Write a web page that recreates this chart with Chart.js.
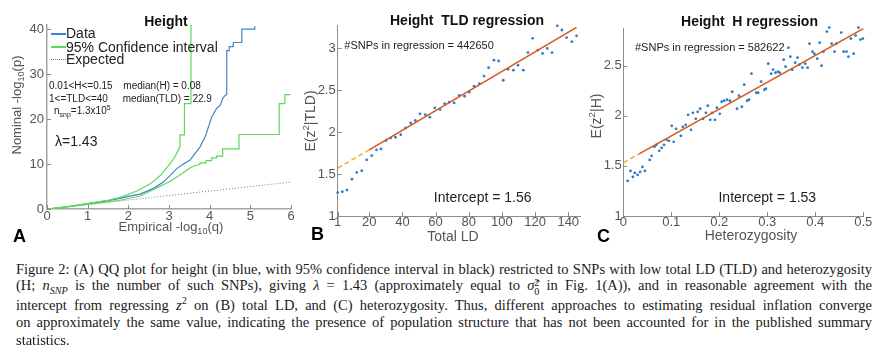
<!DOCTYPE html>
<html>
<head>
<meta charset="utf-8">
<script src="https://cdn.jsdelivr.net/npm/chart.js@4.4.1/dist/chart.umd.min.js"></script>
<style>
  html, body { margin: 0; padding: 0; background: #fff; }
  #fig { position: relative; width: 887px; height: 350px; overflow: hidden; font-family: 'Liberation Sans', Arial, sans-serif; }
  #fig canvas { position: absolute; left: 0; top: 0; }
  .t { position: absolute; white-space: pre; line-height: 1; }
  .ttl { font-weight: bold; font-size: 14px; color: #111; }
  .axt { font-size: 14px; color: #555; }
  .axt13 { font-size: 13px; color: #555; }
  .note { font-size: 11px; color: #222; }
  .note10 { font-size: 10px; color: #222; }
  .big { font-size: 14px; color: #222; }
  .letter { font-weight: bold; font-size: 18px; color: #000; }
  .t sub, .t sup { font-size: 70%; line-height: 0; }
  .leg { position: absolute; width: 15px; height: 0; }
  .cap { position: absolute; left: 16px; white-space: nowrap; font-family: 'Liberation Serif', serif; font-size: 14.5px; color: #1a1a1a; line-height: 1; transform: translateY(-50%); }
  .cap sub, .cap sup { font-size: 70%; line-height: 0; }
  .ss { display: inline-flex; flex-direction: column; vertical-align: middle; font-size: 70%; line-height: 0.9; }
</style>
</head>
<body>
<div id="fig">
  <canvas id="qq" width="887" height="250"></canvas>
  <canvas id="tld" width="887" height="250"></canvas>
  <canvas id="het" width="887" height="250"></canvas>
</div>
<script>
// --- A: QQ plot (Height) ---
const A_xTicks = [0, 1, 2, 3, 4, 5, 6];
const A_yTicks = [0, 10, 20, 30, 40];
const A_dataX = [0, 0.5, 1, 1.5, 1.8, 2.0, 2.29, 2.62, 2.86, 3.03, 3.19, 3.35, 3.52, 3.64, 3.76, 3.89, 3.97, 4.05, 4.17, 4.26, 4.32, 4.38, 4.42, 4.42, 4.48, 4.48, 4.58, 4.58, 4.79, 4.79, 5.11, 5.11];
const A_dataY = [0, 0.5, 1.15, 1.85, 2.35, 2.8, 3.33, 4.6, 6.0, 7.5, 9.0, 10.0, 10.9, 12.4, 13.8, 16.1, 18.3, 20.5, 22.4, 23.1, 24.6, 25.3, 25.5, 35.3, 35.3, 36.2, 36.2, 37.1, 37.1, 40.1, 40.1, 40.7];
const A_ciHiX = [0, 0.5, 1, 1.5, 1.8, 2.21, 2.54, 2.78, 2.95, 3.11, 3.19, 3.27, 3.27, 3.38, 3.38, 3.54, 3.54];
const A_ciHiY = [0, 0.55, 1.25, 1.95, 2.6, 4.0, 5.6, 7.4, 9.2, 11.1, 12.4, 13.9, 16.5, 16.5, 23.5, 23.5, 41];
const A_ciLoX = [0, 0.5, 1, 1.5, 1.8, 2.29, 2.70, 3.03, 3.27, 3.52, 3.64, 3.76, 3.76, 3.91, 3.91, 4.05, 4.05, 4.17, 4.17, 4.32, 4.32, 4.72, 4.72, 5.71, 5.71, 5.85, 5.85, 5.99];
const A_ciLoY = [0, 0.45, 1.05, 1.6, 1.95, 2.9, 4.7, 6.2, 7.6, 9.2, 9.7, 9.9, 10.3, 10.3, 10.8, 10.8, 11.4, 11.4, 11.8, 11.8, 13.4, 13.4, 16.6, 16.6, 23.5, 23.5, 25.5, 25.5];
const A_expX = [0, 6];
const A_expY = [0, 6];

// --- B: E(z^2 | TLD) against total LD ---
const B_xTicks = [1, 20, 40, 60, 80, 100, 120, 140];
const B_xLabels = ['1', '20', '40', '60', '80', '100', '120', '140'];
const B_yTicks = [1, 1.5, 2, 2.5, 3];
const B_yLabels = ['1', '1.5', '2', '2.5', '3'];
const B_x = [1, 3.8, 6.6, 9.6, 12.5, 15.5, 18.5, 21.5, 24.4, 27.1, 30.1, 32.9, 35.8, 39, 42, 45, 47.8, 50.6, 53.8, 56.6, 59.5, 62.7, 65.5, 68.3, 71.2, 74.3, 77.5, 80.3, 83.2, 86.4, 89.2, 92, 95.2, 98, 100.8, 103.7, 106.9, 109.7, 112.9, 115.7, 118.5, 121.7, 124.5, 127.3, 130.2, 133.4, 136.2, 139, 142.2, 145];
const B_y = [1.28, 1.29, 1.31, 1.44, 1.52, 1.54, 1.67, 1.72, 1.79, 1.80, 1.90, 1.93, 1.94, 1.97, 2.05, 2.11, 2.14, 2.22, 2.21, 2.18, 2.29, 2.27, 2.34, 2.36, 2.35, 2.44, 2.43, 2.48, 2.55, 2.58, 2.67, 2.77, 2.86, 2.85, 2.62, 2.75, 2.74, 2.80, 2.74, 2.95, 3.12, 2.98, 2.94, 3.00, 2.95, 3.27, 3.22, 3.13, 3.08, 3.15];
const B_extX = [1, 20];
const B_extY = [1.57, 1.79];
const B_fitX = [20, 145];
const B_fitY = [1.79, 3.25];

// --- C: E(z^2 | H) against heterozygosity ---
const C_xTicks = [0, 0.1, 0.2, 0.3, 0.4, 0.5];
const C_xLabels = ['0', '0.1', '0.2', '0.3', '0.4', '0.5'];
const C_yTicks = [1, 1.5, 2, 2.5];
const C_yLabels = ['1', '1.5', '2', '2.5'];
const C_x = [0.009, 0.015, 0.020, 0.024, 0.030, 0.035, 0.040, 0.045, 0.055, 0.059, 0.065, 0.069, 0.075, 0.080, 0.085, 0.090, 0.095, 0.101, 0.105, 0.110, 0.120, 0.124, 0.130, 0.135, 0.141, 0.145, 0.151, 0.155, 0.160, 0.166, 0.172, 0.176, 0.181, 0.185, 0.191, 0.195, 0.201, 0.205, 0.210, 0.216, 0.222, 0.227,
  0.237, 0.241, 0.247, 0.252, 0.258, 0.262, 0.267, 0.277, 0.281, 0.287, 0.294, 0.297, 0.302, 0.308, 0.312, 0.317, 0.322, 0.326, 0.334, 0.338, 0.344, 0.348, 0.352, 0.358, 0.363, 0.367, 0.373, 0.379, 0.384, 0.388, 0.394, 0.398, 0.404, 0.409, 0.413, 0.417, 0.424, 0.429, 0.434, 0.440, 0.444, 0.454, 0.459, 0.465, 0.469, 0.474, 0.480, 0.484, 0.490, 0.494, 0.499];
const C_y = [1.35, 1.45, 1.39, 1.43, 1.41, 1.44, 1.49, 1.45, 1.56, 1.60, 1.69, 1.71, 1.65, 1.68, 1.71, 1.76, 1.75, 1.90, 1.74, 1.87, 1.80, 1.89, 1.91, 2.01, 1.86, 2.03, 1.97, 2.04, 2.07, 1.97, 2.03, 2.10, 1.96, 2.03, 1.96, 2.08, 2.02, 2.14, 2.15, 2.16, 2.15, 2.24,
  2.07, 2.20, 2.09, 2.31, 2.15, 2.16, 2.42, 2.23, 2.23, 2.34, 2.26, 2.27, 2.52, 2.42, 2.46, 2.43, 2.44, 2.43, 2.56, 2.49, 2.68, 2.59, 2.46, 2.53, 2.58, 2.51, 2.48, 2.52, 2.48, 2.72, 2.64, 2.62, 2.57, 2.73, 2.50, 2.64, 2.84, 2.88, 2.72, 2.64, 2.72, 2.83, 2.64, 2.64, 2.59, 2.77, 2.62, 2.80, 2.88, 2.76, 2.77];
const C_extX = [0, 0.033];
const C_extY = [1.53, 1.62];
const C_fitX = [0.033, 0.5];
const C_fitY = [1.62, 2.87];

const BLUE = '#3f86c8';
const GREEN = '#5fd85a';
const DOT_BLUE = '#2f7ec4';
const FIT_RED = '#D95319';
const FIT_YELLOW = '#EDB120';
const AXIS_GREY = '#8c8c8c';
const TICK_TEXT = '#555555';

Chart.defaults.font.family = "'Liberation Sans', Arial, sans-serif";

const pts = (xs, ys) => xs.map((x, i) => ({ x, y: ys[i] }));

// matlab-style short tick marks pointing into the plot
const inwardTicks = {
    id: 'inwardTicks',
    afterDatasetsDraw(chart, args, opts) {
        const { ctx, chartArea, scales } = chart;
        const len = opts.len || 4;
        ctx.save();
        ctx.strokeStyle = opts.color || AXIS_GREY;
        ctx.lineWidth = 1;
        scales.x.ticks.forEach((t) => {
            const px = Math.round(scales.x.getPixelForValue(t.value)) + 0.5;
            ctx.beginPath();
            ctx.moveTo(px, chartArea.bottom);
            ctx.lineTo(px, chartArea.bottom - len);
            ctx.stroke();
        });
        scales.y.ticks.forEach((t) => {
            const py = Math.round(scales.y.getPixelForValue(t.value)) + 0.5;
            ctx.beginPath();
            ctx.moveTo(chartArea.left, py);
            ctx.lineTo(chartArea.left + len, py);
            ctx.stroke();
        });
        ctx.restore();
    },
};

function axis(min, max, ticks, labels, size, pad, border) {
    return {
        type: 'linear',
        min,
        max,
        grid: { display: false, drawTicks: false },
        border: { display: true, color: border.color, width: border.width },
        ticks: {
            padding: pad,
            color: TICK_TEXT,
            font: { size: 13, lineHeight: 1 },
            autoSkip: false,
            maxRotation: 0,
            callback: (v, i) => labels[i],
        },
        afterBuildTicks: (s) => { s.ticks = ticks.map((v) => ({ value: v })); },
        afterFit: (s) => {
            if (s.isHorizontal()) s.height = size;
            else s.width = size;
        },
    };
}

function panel(id, datasets, padding, xScale, yScale) {
    return new Chart(document.getElementById(id), {
        type: 'scatter',
        data: { datasets },
        options: {
            responsive: false,
            devicePixelRatio: 1,
            animation: false,
            layout: { padding },
            plugins: { legend: { display: false }, tooltip: { enabled: false }, inwardTicks: { len: 4 } },
            scales: { x: xScale, y: yScale },
        },
        plugins: [inwardTicks],
    });
}

const lineSet = (data, color, width, dash) => ({
    data, showLine: true, borderColor: color, borderWidth: width, borderDash: dash || [],
    pointRadius: 0, tension: 0, clip: false,
});
const dotSet = (data) => ({
    data, showLine: false, pointRadius: 1.4, pointBorderWidth: 0,
    backgroundColor: DOT_BLUE, borderColor: DOT_BLUE, clip: false,
});

const A_labels = A_xTicks.map(String);
const A_ylabels = A_yTicks.map(String);

panel('qq', [
    lineSet(pts(A_ciHiX, A_ciHiY), GREEN, 1.2),
    lineSet(pts(A_ciLoX, A_ciLoY), GREEN, 1.2),
    lineSet(pts(A_dataX, A_dataY), BLUE, 1.2),
    lineSet(pts(A_expX, A_expY), '#777', 1, [1, 2]),
], { left: 0, top: 25, right: 887 - 291, bottom: 0 },
    axis(0, 6, A_xTicks, A_labels, 41, 1, { color: '#a6a6a6', width: 1.5 }),
    axis(0, 41, A_yTicks, A_ylabels, 47, 3, { color: '#a6a6a6', width: 1.5 }));

panel('tld', [
    lineSet(pts(B_fitX, B_fitY), FIT_RED, 1.5),
    lineSet(pts(B_extX, B_extY), FIT_YELLOW, 1.5, [5, 3]),
    dotSet(pts(B_x, B_y)),
], { left: 300, top: 25.8, right: 887 - 580.7, bottom: 0 },
    axis(1, 147.5, B_xTicks, B_xLabels, 34, 0, { color: AXIS_GREY, width: 1 }),
    axis(1, 3.27, B_yTicks, B_yLabels, 37.7, 2, { color: AXIS_GREY, width: 1 }));

panel('het', [
    lineSet(pts(C_fitX, C_fitY), FIT_RED, 1.5),
    lineSet(pts(C_extX, C_extY), FIT_YELLOW, 1.5, [5, 3]),
    dotSet(pts(C_x, C_y)),
], { left: 580, top: 28.6, right: 887 - 863.3, bottom: 0 },
    axis(0, 0.5, C_xTicks, C_xLabels, 34, 0, { color: AXIS_GREY, width: 1 }),
    axis(1, 2.87, C_yTicks, C_yLabels, 43.3, 1.6, { color: AXIS_GREY, width: 1 }));

// --- text layer ---
const fig = document.getElementById('fig');
function place(html, x, y, cls, anchor) {
    const el = document.createElement('div');
    el.className = 't ' + cls;
    el.innerHTML = html;
    el.style.left = x + 'px';
    el.style.top = y + 'px';
    if (anchor === 'c') el.style.transform = 'translate(-50%,-50%)';
    else if (anchor === 'v') el.style.transform = 'translate(-50%,-50%) rotate(-90deg)';
    else el.style.transform = 'translate(0,-50%)';
    fig.appendChild(el);
    return el;
}
function legendLine(x, y, color, style) {
    const el = document.createElement('div');
    el.className = 'leg';
    el.style.left = x + 'px';
    el.style.top = y + 'px';
    el.style.borderTop = (style === 'dotted' ? '1px dotted ' : '2px solid ') + color;
    fig.appendChild(el);
}

place('Height', 166, 21, 'ttl', 'c');
place('Height  TLD regression', 467, 20, 'ttl', 'c');
place('Height  H regression', 749.5, 21, 'ttl', 'c');

place('Empirical -log<sub>10</sub>(q)', 171, 226, 'axt13', 'c');
place('Nominal -log<sub>10</sub>(p)', 16, 105, 'axt13', 'v');
place('Total LD', 453, 236, 'axt', 'c');
place('E(z<sup>2</sup>|TLD)', 309.5, 121, 'axt', 'v');
place('Heterozygosity', 751, 234.5, 'axt', 'c');
place('E(z<sup>2</sup>|H)', 596, 116, 'axt', 'v');

legendLine(50.7, 32.5, BLUE, 'solid');
legendLine(50.7, 46, GREEN, 'solid');
legendLine(50.7, 59, '#777', 'dotted');
place('Data', 66, 33.3, 'big');
place('95% Confidence interval', 66, 46.7, 'big');
place('Expected', 66, 59.3, 'big');

place('0.01&lt;H&lt;=0.15', 49, 86, 'note10');
place('median(H) = 0.08', 123.3, 86, 'note10');
place('1&lt;=TLD&lt;=40', 49, 99.3, 'note10');
place('median(TLD) = 22.9', 122.7, 99.3, 'note10');
place('n<sub>snp</sub>=1.3x10<sup>5</sup>', 54, 111, 'note10');
place('λ=1.43', 55, 141, 'big');

place('#SNPs in regression = 442650', 344.3, 45, 'note');
place('#SNPs in regression = 582622', 635, 46.7, 'note');
place('Intercept = 1.56', 482.7, 196.7, 'big', 'c');
place('Intercept = 1.53', 767.3, 196.7, 'big', 'c');

place('A', 13, 236, 'letter');
place('B', 311, 234, 'letter');
place('C', 597, 235.5, 'letter');

// --- caption, one justified line per row ---
const CAPTION = [
    'Figure 2: (A) QQ plot for height (in blue, with 95% confidence interval in black) restricted to SNPs with low total LD (TLD) and heterozygosity',
    '(H; <i>n<sub>SNP</sub></i> is the number of such SNPs), giving <i>λ</i> = 1.43 (approximately equal to <i>σ̂</i><span class="ss"><span>2</span><span>0</span></span> in Fig. 1(A)), and in reasonable agreement with the',
    'intercept from regressing <i>z</i><sup>2</sup> on (B) total LD, and (C) heterozygosity. Thus, different approaches to estimating residual inflation converge',
    'on approximately the same value, indicating the presence of population structure that has not been accounted for in the published summary',
    'statistics.',
];
const CAPTION_Y = [269, 287, 304.5, 322, 339.5];
const CAPTION_W = 856;
CAPTION.forEach((html, i) => {
    const el = document.createElement('div');
    el.className = 'cap';
    el.innerHTML = html;
    el.style.top = CAPTION_Y[i] + 'px';
    fig.appendChild(el);
    if (i < CAPTION.length - 1) {
        const w = el.getBoundingClientRect().width;
        const gaps = (el.textContent.match(/ /g) || []).length;
        el.style.wordSpacing = ((CAPTION_W - w) / gaps) + 'px';
    }
});
</script>
</body>
</html>
